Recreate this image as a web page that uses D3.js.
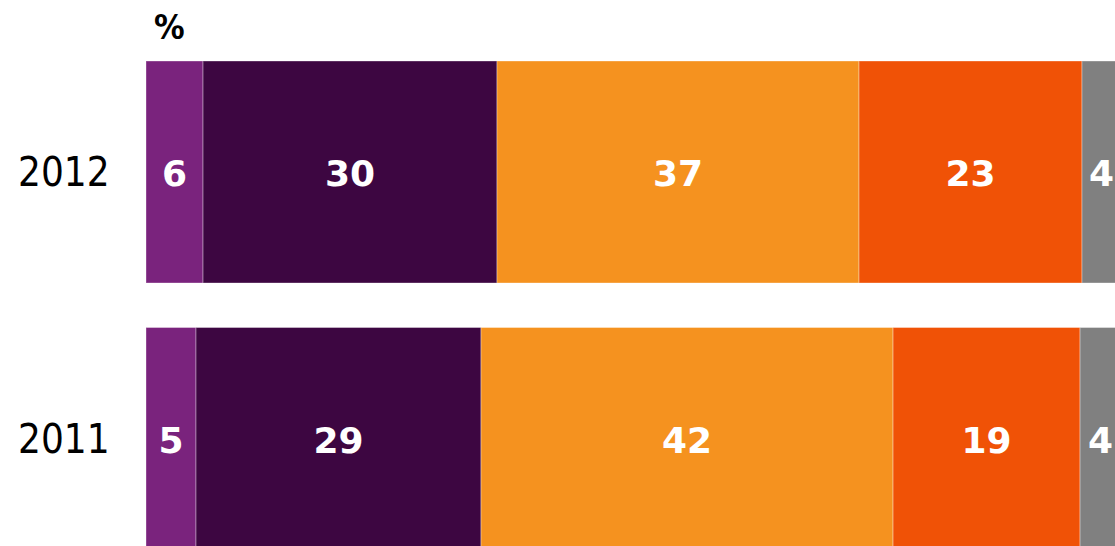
<!DOCTYPE html>
<html>
<head>
<meta charset="utf-8">
<script src="https://cdn.jsdelivr.net/npm/d3@7"></script>
<style>
    html, body { margin: 0; padding: 0; background: #fff; overflow: hidden; }
    svg { display: block; }
    .year { font-family: "DejaVu Sans Condensed", "DejaVu Sans", sans-serif; font-stretch: condensed; font-size: 40px; fill: #000; }
    .unit { font-family: "DejaVu Sans Condensed", "DejaVu Sans", sans-serif; font-stretch: condensed; font-weight: bold; font-size: 34px; fill: #000; }
    .value { font-family: "DejaVu Sans", sans-serif; font-weight: bold; font-size: 36px; fill: #fff; text-anchor: middle; }
    .segment { stroke: rgba(255, 255, 255, 0.35); stroke-width: 1; }
</style>
</head>
<body>
<svg width="1115" height="546"></svg>
<script>
const years = ["2012", "2011"];
const categories = ["c1", "c2", "c3", "c4", "c5"];
const values2012 = [5.85, 30.15, 37.13, 22.87, 4.0];
const values2011 = [5.13, 29.23, 42.26, 19.18, 4.2];
const colors = ["#7A237D", "#3D0641", "#F5921F", "#F05206", "#808080"];

function draw() {
    const rows = [
        { year: "2012", values: values2012 },
        { year: "2011", values: values2011 }
    ];

    const stackData = rows.map((r) => {
        const o = { year: r.year };
        categories.forEach((c, i) => { o[c] = r.values[i]; });
        return o;
    });

    const series = d3.stack().keys(categories)(stackData);

    const xScale = d3.scaleLinear()
        .domain([0, 100])
        .range([146, 1121]);

    const yScale = d3.scaleBand()
        .domain(years)
        .range([61, 549.5])
        .paddingInner(0.167)
        .paddingOuter(0);

    const colorScale = d3.scaleOrdinal()
        .domain(categories)
        .range(colors);

    const svg = d3.select("svg");
    svg.selectAll("*").remove();

    const groups = svg.selectAll(".series")
        .data(series)
        .enter().append("g")
        .attr("class", "series")
        .style("fill", (d) => colorScale(d.key));

    groups.selectAll(".segment")
        .data((d) => d)
        .enter().append("rect")
        .attr("class", "segment")
        .attr("x", (d) => xScale(d[0]))
        .attr("y", (d) => yScale(d.data.year))
        .attr("width", (d) => xScale(d[1]) - xScale(d[0]))
        .attr("height", yScale.bandwidth());

    groups.selectAll(".value")
        .data((d) => d)
        .enter().append("text")
        .attr("class", "value")
        .attr("x", (d) => (xScale(d[0]) + xScale(d[1])) / 2)
        .attr("y", (d) => yScale(d.data.year) + yScale.bandwidth() / 2 + 14)
        .text((d) => Math.round(d[1] - d[0]));

    svg.selectAll(".year")
        .data(years)
        .enter().append("text")
        .attr("class", "year")
        .attr("x", 18)
        .attr("y", (d) => yScale(d) + yScale.bandwidth() / 2 + 14.5)
        .text((d) => d);

    svg.append("text")
        .attr("class", "unit")
        .attr("x", 154)
        .attr("y", 39)
        .text("%");
}

draw();
</script>
</body>
</html>
